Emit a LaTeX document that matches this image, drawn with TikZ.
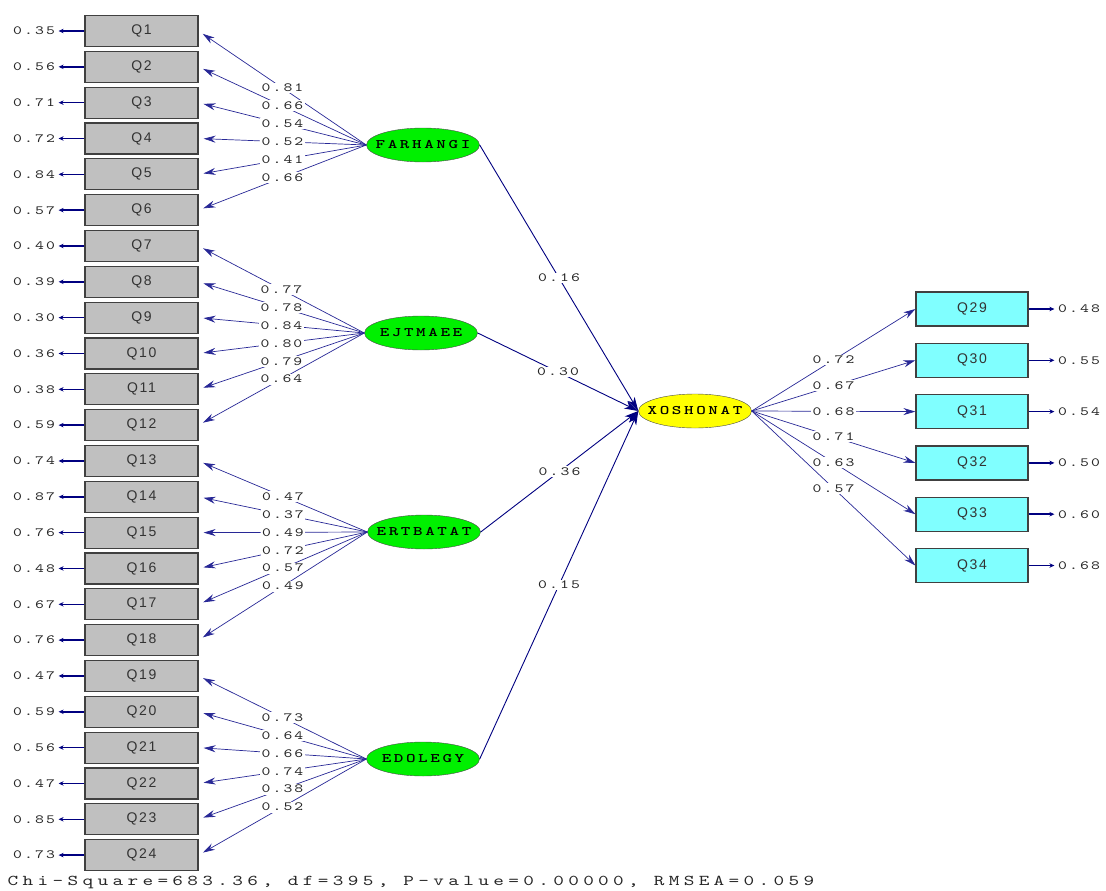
\documentclass[tikz,border=0pt]{standalone}
\usepackage{fontspec}
\setmainfont{Liberation Sans}
\newfontfamily\numfont[FakeStretch=1.35, LetterSpace=17]{lmmono10-regular.otf}
\newfontfamily\latfont[FakeStretch=1.4, LetterSpace=20]{lmmonolt10-bold.otf}
\newfontfamily\chifont[FakeStretch=1.35, LetterSpace=29]{lmmono10-regular.otf}
\newcommand{\latname}[1]{\makebox[0pt]{#1}}
\usetikzlibrary{shapes.geometric,arrows.meta}
\definecolor{boxgray}{RGB}{192,192,192}
\definecolor{boxcyan}{RGB}{128,255,255}
\definecolor{latgreen}{RGB}{0,240,0}
\definecolor{latyellow}{RGB}{255,255,0}
\definecolor{pathblue}{RGB}{0,0,128}
\definecolor{linkblue}{RGB}{40,40,150}
\tikzstyle{item} = [rectangle, minimum width=113pt, minimum height=31pt, inner sep=0pt, draw=black!75, line width=1.2pt, fill=boxgray, font=\fontsize{14}{14}\selectfont\addfontfeature{LetterSpace=12}, text=black!80]
\tikzstyle{outitem} = [item, minimum width=112pt, minimum height=34pt, fill=boxcyan]
\tikzstyle{latent} = [ellipse, minimum width=113pt, minimum height=34pt, inner sep=0pt, draw=black!70, fill=latgreen, font=\latfont\fontsize{13}{13}\selectfont]
\tikzstyle{coef} = [font=\numfont\fontsize{12.5}{12.5}\selectfont, text=black!85, inner sep=1.5pt]
\tikzstyle{load} = [line width=0.7pt, draw=linkblue, -{Stealth[length=12pt,width=7pt,inset=4pt]}, shorten >=5pt]
\tikzstyle{struct} = [line width=0.9pt, draw=pathblue, -{Stealth[length=14pt,width=8pt,inset=4pt]}]
\tikzstyle{err} = [line width=1.5pt, draw=pathblue, -{Stealth[length=5pt,width=4.5pt]}, shorten >=2pt]

\begin{document}
\begin{tikzpicture}[x=1pt, y=-1pt]
\useasboundingbox (0,0) rectangle (1106,891);

% indicators on the left
\foreach \i/\e in {1/0.35,2/0.56,3/0.71,4/0.72,5/0.84,6/0.57,7/0.40,8/0.39,9/0.30,10/0.36,11/0.38,12/0.59,13/0.74,14/0.87,15/0.76,16/0.48,17/0.67,18/0.76,19/0.47,20/0.59,21/0.56,22/0.47,23/0.85,24/0.73} {
  \node (q\i) [item] at (141.5, {31+35.83*(\i-1)}) {Q\i};
  \node (e\i) [coef] at (34, {31+35.83*(\i-1)}) {\e};
  \draw [err] (q\i.west) -- (e\i.east);
}

% latent variables
\node (farhangi) [latent] at (423,145) {\latname{FARHANGI}};
\node (ejtmaee) [latent] at (421,333) {\latname{EJTMAEE}};
\node (ertbatat) [latent] at (424,532) {\latname{ERTBATAT}};
\node (edolegy) [latent] at (423,759) {\latname{EDOLEGY}};
\node (xoshonat) [latent, fill=latyellow] at (695,411) {\latname{XOSHONAT}};

% loadings
\foreach \i/\l in {1/0.81,2/0.66,3/0.54,4/0.52,5/0.41,6/0.66}
  \draw [load] (farhangi.west) -- node[coef, fill=white]{\l} (q\i.east);
\foreach \i/\l in {7/0.77,8/0.78,9/0.84,10/0.80,11/0.79,12/0.64}
  \draw [load] (ejtmaee.west) -- node[coef, fill=white]{\l} (q\i.east);
\foreach \i/\l in {13/0.47,14/0.37,15/0.49,16/0.72,17/0.57,18/0.49}
  \draw [load] (ertbatat.west) -- node[coef, fill=white]{\l} (q\i.east);
\foreach \i/\l in {19/0.73,20/0.64,21/0.66,22/0.74,23/0.38,24/0.52}
  \draw [load] (edolegy.west) -- node[coef, fill=white]{\l} (q\i.east);

% structural paths
\draw [struct] (farhangi.east) -- node[coef, fill=white]{0.16} (xoshonat.west);
\draw [struct] (ejtmaee.east) -- node[coef, fill=white]{0.30} (xoshonat.west);
\draw [struct] (ertbatat.east) -- node[coef, fill=white]{0.36} (xoshonat.west);
\draw [struct] (edolegy.east) -- node[coef, fill=white]{0.15} (xoshonat.west);

% indicators on the right
\foreach \i/\l/\e [count=\k from 0] in {29/0.72/0.48,30/0.67/0.55,31/0.68/0.54,32/0.71/0.50,33/0.63/0.60,34/0.57/0.68} {
  \node (q\i) [outitem] at (972, {309+51.3*\k}) {Q\i};
  \node (e\i) [coef] at (1079, {309+51.3*\k}) {\e};
  \draw [err] (q\i.east) -- (e\i.west);
  \draw [load, shorten >=0pt] (xoshonat.east) -- node[coef, fill=white]{\l} (q\i.west);
}

\node (fit) [coef, font=\chifont\fontsize{15}{15}\selectfont, anchor=west] at (6,882) {Chi-Square=683.36, df=395, P-value=0.00000, RMSEA=0.059};

\end{tikzpicture}
\end{document}
